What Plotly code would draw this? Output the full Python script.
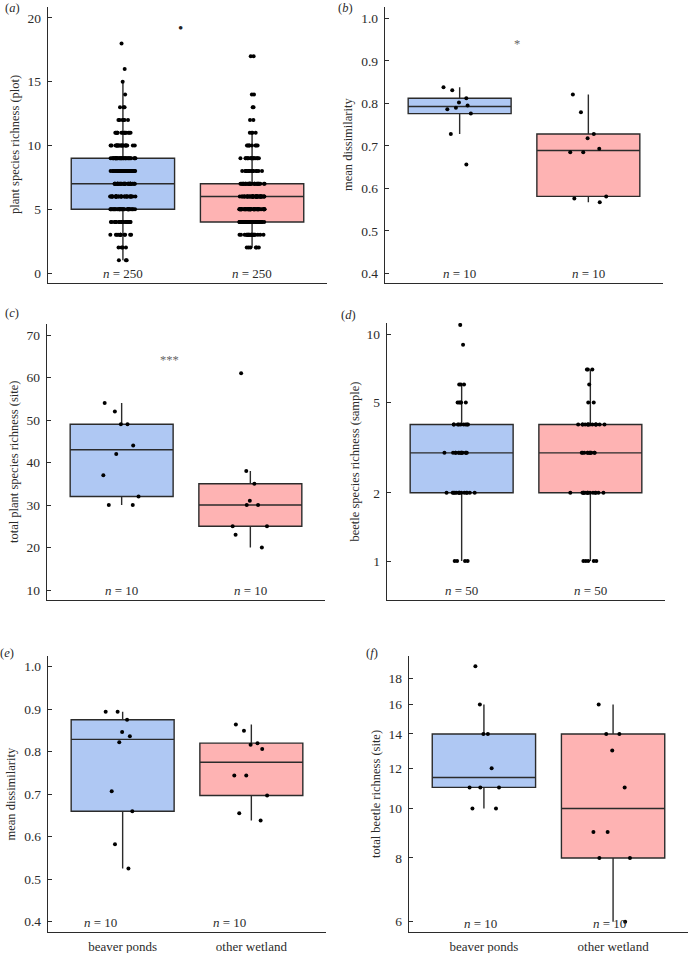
import numpy as np
import plotly.graph_objects as go

W, H = 689, 953
FONT = "Liberation Serif"
LINE = "#2b2b2b"

groups = ["beaver ponds", "other wetland"]
fill_colors = ["#afc8f3", "#feb3b3"]

# (a) plant species richness per plot: counts at each richness level
plot_rich_levels = list(range(1, 19))
plot_rich_beaver_counts = [3, 4, 12, 22, 30, 32, 34, 34, 32, 20, 14, 6, 3, 1, 1, 1, 0, 1]
plot_rich_other_counts = [0, 6, 22, 45, 48, 45, 32, 16, 16, 8, 4, 2, 2, 2, 0, 0, 2, 0]

# (b) plant mean dissimilarity per site
plant_dissim_beaver = [0.838, 0.831, 0.812, 0.802, 0.795, 0.790, 0.786, 0.776, 0.728, 0.656]
plant_dissim_other = [0.821, 0.779, 0.728, 0.718, 0.693, 0.685, 0.685, 0.581, 0.576, 0.567]

# (c) total plant species richness per site
site_plant_rich_beaver = [54, 52, 49, 49, 44, 42, 37, 32, 30, 30]
site_plant_rich_other = [61, 38, 35, 31, 30, 30, 25, 25, 23, 20]

# (d) beetle species richness per sample: counts at each level
beetle_levels_beaver = [1, 2, 3, 4, 5, 6, 9, 11]
beetle_counts_beaver = [4, 14, 13, 9, 5, 3, 1, 1]
beetle_levels_other = [1, 2, 3, 4, 5, 6, 7]
beetle_counts_other = [5, 14, 11, 14, 2, 1, 3]

# (e) beetle mean dissimilarity per site
beetle_dissim_beaver = [0.894, 0.894, 0.875, 0.846, 0.836, 0.822, 0.707, 0.660, 0.582, 0.525]
beetle_dissim_other = [0.864, 0.849, 0.820, 0.816, 0.806, 0.744, 0.744, 0.697, 0.655, 0.638]

# (f) total beetle richness per site
site_beetle_rich_beaver = [19, 16, 14, 14, 12, 11, 11, 11, 10, 10]
site_beetle_rich_other = [16, 14, 14, 13, 11, 9, 9, 8, 8, 6]

y_titles = ["plant species richness (plot)", "mean dissimilarity",
            "total plant species richness (site)", "beetle species richness (sample)",
            "mean dissimilarity", "total beetle richness (site)"]
panel_letters = ["a", "b", "c", "d", "e", "f"]
n_texts = [["250", "250"], ["10", "10"], ["10", "10"], ["50", "50"], ["10", "10"], ["10", "10"]]
sig_texts = ["\u2022", "*", "***", "", "", ""]
tickvals = [[0, 5, 10, 15, 20],
            [0.4, 0.5, 0.6, 0.7, 0.8, 0.9, 1.0],
            [10, 20, 30, 40, 50, 60, 70],
            [1, 2, 5, 10],
            [0.4, 0.5, 0.6, 0.7, 0.8, 0.9, 1.0],
            [6, 8, 10, 12, 14, 16, 18]]
ticktext = [[str(v) for v in tickvals[0]],
            ["%.1f" % v for v in tickvals[1]],
            [str(v) for v in tickvals[2]],
            [str(v) for v in tickvals[3]],
            ["%.1f" % v for v in tickvals[4]],
            [str(v) for v in tickvals[5]]]

data = [
    (np.repeat(plot_rich_levels, plot_rich_beaver_counts), np.repeat(plot_rich_levels, plot_rich_other_counts)),
    (plant_dissim_beaver, plant_dissim_other),
    (site_plant_rich_beaver, site_plant_rich_other),
    (np.repeat(beetle_levels_beaver, beetle_counts_beaver), np.repeat(beetle_levels_other, beetle_counts_other)),
    (beetle_dissim_beaver, beetle_dissim_other),
    (site_beetle_rich_beaver, site_beetle_rich_other),
]

# layout geometry (pixels)
panels = [
    dict(x0=48, x1=327, y0=7, y1=283, yr=[-0.78, 20.86], log=False, tx=15, lab=(12, 8),
         nx=[0, 1], ny=0, sig=(180, 28), jit=0.25),
    dict(x0=385, x1=663, y0=7, y1=283, yr=[0.377, 1.027], log=False, tx=348, lab=(345, 8),
         nx=[0, 1], ny=0.4, sig=(517, 44), jit=0.45),
    dict(x0=47, x1=325, y0=324, y1=600, yr=[7.65, 72.6], log=False, tx=14, lab=(12, 313),
         nx=[0, 1], ny=9.85, sig=(169.5, 360), jit=0.45),
    dict(x0=387, x1=665, y0=323, y1=600, yr=[-0.172, 1.05], log=True, tx=354, lab=(348, 315),
         nx=[0, 1], ny=-0.128, sig=None, jit=0.4),
    dict(x0=48, x1=326, y0=656, y1=932, yr=[0.3758, 1.025], log=False, tx=10.5, lab=(7, 653),
         nx=[-0.175, 0.83], ny=0.398, sig=None, jit=0.45),
    dict(x0=409, x1=688, y0=656, y1=932, yr=[0.758, 1.299], log=True, tx=376, lab=(372, 653),
         nx=[-0.023, 0.97], ny=0.7755, sig=None, jit=0.45),
]

fig = go.Figure()
layout = dict(width=W, height=H, margin=dict(l=0, r=0, t=0, b=0),
              paper_bgcolor="white", plot_bgcolor="white", boxmode="overlay",
              showlegend=False, font=dict(family=FONT, size=12.5, color=LINE))
annotations = []


def txt(text, x, y, xref="paper", yref="paper", size=12.5, color=LINE, angle=0):
    return dict(text=text, x=x, y=y, xref=xref, yref=yref, showarrow=False,
                xanchor="center", yanchor="middle", textangle=angle,
                font=dict(family=FONT, size=size, color=color))


for i, (p, (vb, vo)) in enumerate(zip(panels, data)):
    k = "" if i == 0 else str(i + 1)
    for g, vals, fc in zip(groups, (vb, vo), fill_colors):
        vals = list(vals)
        fig.add_trace(go.Box(
            x=[g] * len(vals), y=vals, xaxis="x" + k, yaxis="y" + k,
            fillcolor=fc, line=dict(color=LINE, width=1.4), whiskerwidth=0,
            width=0.8, boxpoints="all", jitter=p["jit"], pointpos=0,
            quartilemethod="exclusive",
            marker=dict(color="black", size=4, line=dict(width=0)),
            hoverinfo="skip"))
    show_x = i >= 4
    layout["xaxis" + k] = dict(
        domain=[p["x0"] / W, p["x1"] / W], anchor="y" + k, type="category",
        categoryorder="array", categoryarray=groups, range=[-0.58, 1.58],
        showline=True, linecolor=LINE, linewidth=1.4, ticks="", showgrid=False,
        zeroline=False, showticklabels=show_x, ticklabelstandoff=2,
        tickfont=dict(family=FONT, size=13, color=LINE))
    layout["yaxis" + k] = dict(
        domain=[1 - p["y1"] / H, 1 - p["y0"] / H], anchor="x" + k,
        type="log" if p["log"] else "linear", range=p["yr"],
        showline=True, linecolor=LINE, linewidth=1.4, ticks="inside", ticklen=4,
        tickwidth=1.2, tickcolor=LINE, showgrid=False, zeroline=False,
        tickvals=tickvals[i], ticktext=ticktext[i],
        tickfont=dict(family=FONT, size=13.5, color=LINE), ticklabelstandoff=3)
    # y-axis title
    annotations.append(txt(y_titles[i], p["tx"] / W, 1 - (p["y0"] + p["y1"]) / 2 / H, angle=-90))
    # panel letter
    annotations.append(txt("(<i>%s</i>)" % panel_letters[i], p["lab"][0] / W, 1 - p["lab"][1] / H))
    # n labels
    for nx, nt in zip(p["nx"], n_texts[i]):
        annotations.append(txt("<i>n</i> = %s" % nt, nx, p["ny"], xref="x" + k, yref="y" + k, size=13))
    if p["sig"] and sig_texts[i]:
        annotations.append(txt(sig_texts[i], p["sig"][0] / W, 1 - p["sig"][1] / H,
                               size=15 if i == 0 else 12.5,
                               color="#222" if i == 0 else "#666"))

layout["annotations"] = annotations
fig.update_layout(**layout)
fig.write_html("out.html", config={"displayModeBar": False},
               post_script="document.body.style.margin='0px';document.body.style.overflow='hidden';")
